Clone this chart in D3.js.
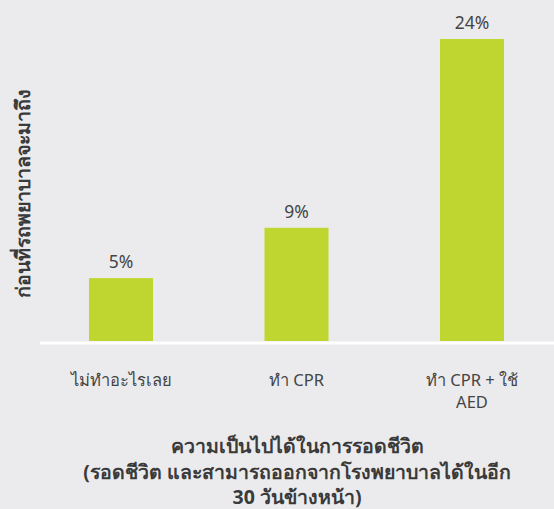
<!DOCTYPE html>
<html>
<head>
<meta charset="utf-8">
<script src="https://cdn.jsdelivr.net/npm/d3@7"></script>
<style>
  html, body { margin: 0; padding: 0; background: #ebebed; }
  svg { display: block; font-family: "Noto Sans", "Open Sans", sans-serif; }
</style>
</head>
<body>
<script>
const categories = ["ไม่ทำอะไรเลย", "ทำ CPR", "ทำ CPR + ใช้|AED"];
const values = [5, 9, 24];
const yLabel = "ก่อนที่รถพยาบาลจะมาถึง";
const titleLines = [
    "ความเป็นไปได้ในการรอดชีวิต",
    "(รอดชีวิต และสามารถออกจากโรงพยาบาลได้ในอีก",
    "30 วันข้างหน้า)"
];

const svgWidth = 554;
const svgHeight = 509;
const baseY = 341;

const svg = d3.select("body").append("svg")
    .attr("width", svgWidth)
    .attr("height", svgHeight);

svg.append("rect")
    .attr("width", svgWidth)
    .attr("height", svgHeight)
    .attr("fill", "#ebebed");

// scales
const scaleX = d3.scaleBand()
    .domain(categories)
    .range([33.25, 559.75])
    .paddingInner(0.635)
    .paddingOuter(0.3175);

const scaleY = d3.scaleLinear()
    .domain([0, 24])
    .range([baseY, 39]);

// bars
svg.append("g").selectAll("rect")
    .data(values)
    .join("rect")
    .attr("x", (d, i) => scaleX(categories[i]))
    .attr("y", d => scaleY(d))
    .attr("width", scaleX.bandwidth())
    .attr("height", d => scaleY(0) - scaleY(d))
    .attr("fill", "#c0d630");

// baseline
svg.append("line")
    .attr("x1", 40).attr("x2", svgWidth)
    .attr("y1", baseY + 2).attr("y2", baseY + 2)
    .attr("stroke", "#ffffff")
    .attr("stroke-width", 3);

// value labels
svg.append("g").selectAll("text")
    .data(values)
    .join("text")
    .attr("x", (d, i) => scaleX(categories[i]) + scaleX.bandwidth() / 2)
    .attr("y", d => scaleY(d) - 10)
    .attr("text-anchor", "middle")
    .attr("font-size", "17.5px")
    .attr("fill", "#444")
    .text(d => d + "%");

// category labels
const catG = svg.append("g").selectAll("text")
    .data(categories)
    .join("text")
    .attr("x", d => scaleX(d) + scaleX.bandwidth() / 2)
    .attr("y", 386)
    .attr("text-anchor", "middle")
    .attr("font-size", "16.5px")
    .attr("fill", "#444");
catG.selectAll("tspan")
    .data(d => d.split("|"))
    .join("tspan")
    .attr("x", function () { return d3.select(this.parentNode).attr("x"); })
    .attr("dy", (d, i) => i === 0 ? 0 : 22)
    .text(d => d);

// y axis label
svg.append("text")
    .attr("transform", "translate(30,193) rotate(-90)")
    .attr("text-anchor", "middle")
    .attr("font-size", "19.5px")
    .attr("font-weight", "bold")
    .attr("fill", "#3a3a3a")
    .text(yLabel);

// title under chart
svg.append("g").selectAll("text")
    .data(titleLines)
    .join("text")
    .attr("x", 297)
    .attr("y", (d, i) => 453 + i * 25.5)
    .attr("text-anchor", "middle")
    .attr("font-size", "19.5px")
    .attr("font-weight", "bold")
    .attr("fill", "#3a3a3a")
    .text(d => d);
</script>
</body>
</html>
